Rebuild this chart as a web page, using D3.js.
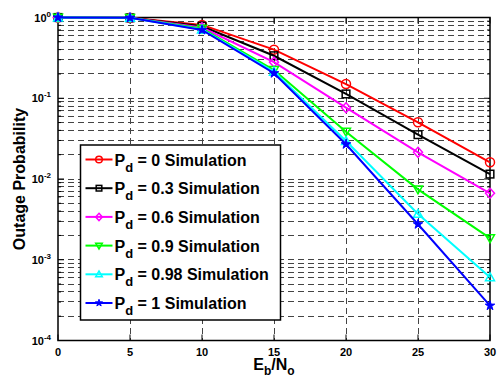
<!DOCTYPE html>
<html>
<head>
<meta charset="utf-8">
<script src="https://cdn.jsdelivr.net/npm/d3@7"></script>
<style>
  body { margin: 0; background: #fff; }
  svg { font-family: "Liberation Sans", Arial, sans-serif; font-weight: bold; }
</style>
</head>
<body>
<div id="chart"></div>
<script>
// data
const ebno = [0, 5, 10, 15, 20, 25, 30];
const pd0 = [1, 0.99, 0.81, 0.40, 0.150, 0.0504, 0.0161];
const pd03 = [1, 0.99, 0.78, 0.336, 0.113, 0.0354, 0.0115];
const pd06 = [1, 0.99, 0.75, 0.28, 0.0764, 0.0214, 0.00665];
const pd09 = [1, 0.99, 0.73, 0.224, 0.0385, 0.00745, 0.00185];
const pd098 = [1, 0.99, 0.71, 0.212, 0.0295, 0.00369, 0.000606];
const pd1 = [1, 0.99, 0.70, 0.204, 0.0269, 0.00275, 0.00027];
const xTicks = [0, 5, 10, 15, 20, 25, 30];
const yTicks = [0, -1, -2, -3, -4];

const series = [
  { pd: '0', values: pd0, color: '#ff0000', marker: 'circle' },
  { pd: '0.3', values: pd03, color: '#000000', marker: 'square' },
  { pd: '0.6', values: pd06, color: '#ff00ff', marker: 'diamond' },
  { pd: '0.9', values: pd09, color: '#00ff00', marker: 'tridown' },
  { pd: '0.98', values: pd098, color: '#00ffff', marker: 'triup' },
  { pd: '1', values: pd1, color: '#0000ff', marker: 'star' }
];

const W = 499, H = 379;
const margin = { top: 17.5, right: 9, bottom: 38.5, left: 58 };
const width = W - margin.left - margin.right;
const height = H - margin.top - margin.bottom;

const svg = d3.select('#chart').append('svg').attr('width', W).attr('height', H);
const g = svg.append('g').attr('transform', `translate(${margin.left},${margin.top})`);

const x = d3.scaleLinear().domain([0, 30]).range([0, width]);
const y = d3.scaleLog().domain([1e-4, 1]).range([height, 0]);

// grid: vertical lines at inner x ticks
g.selectAll('.vgrid')
  .data(xTicks.slice(1, -1))
  .enter().append('line')
  .attr('x1', d => x(d)).attr('x2', d => x(d))
  .attr('y1', 0).attr('y2', height)
  .attr('stroke', '#444').attr('stroke-width', 1)
  .attr('shape-rendering', 'crispEdges')
  .attr('stroke-dasharray', '6,4');

// grid: horizontal lines at every log step
const hvals = [];
for (let e = -4; e < 0; e++) {
  for (let m = 1; m <= 9; m++) {
    if (e === -4 && m === 1) continue;
    hvals.push(m * Math.pow(10, e));
  }
}
g.selectAll('.hgrid')
  .data(hvals)
  .enter().append('line')
  .attr('x1', 0).attr('x2', width)
  .attr('y1', d => y(d)).attr('y2', d => y(d))
  .attr('stroke', '#444').attr('stroke-width', 1)
  .attr('shape-rendering', 'crispEdges')
  .attr('stroke-dasharray', '6,4');

// axes box
g.append('rect')
  .attr('width', width).attr('height', height)
  .attr('fill', 'none').attr('stroke', '#000').attr('stroke-width', 1.5);

// tick marks
const minorVals = hvals.filter(v => Math.abs(Math.log10(v) - Math.round(Math.log10(v))) > 1e-6);
[0, width].forEach(px => {
  const dir = px === 0 ? 1 : -1;
  g.selectAll(null).data(yTicks).enter().append('line')
    .attr('x1', px).attr('x2', px + dir * 6)
    .attr('y1', d => y(Math.pow(10, d))).attr('y2', d => y(Math.pow(10, d)))
    .attr('stroke', '#000').attr('stroke-width', 1);
  g.selectAll(null).data(minorVals).enter().append('line')
    .attr('x1', px).attr('x2', px + dir * 3)
    .attr('y1', d => y(d)).attr('y2', d => y(d))
    .attr('stroke', '#000').attr('stroke-width', 1);
});
[0, height].forEach(py => {
  const dir = py === 0 ? 1 : -1;
  g.selectAll(null).data(xTicks).enter().append('line')
    .attr('x1', d => x(d)).attr('x2', d => x(d))
    .attr('y1', py).attr('y2', py + dir * 6)
    .attr('stroke', '#000').attr('stroke-width', 1);
});

// tick labels
g.selectAll('.xlab').data(xTicks).enter().append('text')
  .attr('x', d => x(d)).attr('y', height + 15)
  .attr('text-anchor', 'middle').attr('font-size', 11)
  .text(d => d);

const ylab = g.selectAll('.ylab').data(yTicks).enter().append('text')
  .attr('x', -7).attr('y', d => y(Math.pow(10, d)) + 4)
  .attr('text-anchor', 'end').attr('font-size', 11);
ylab.append('tspan').text('10');
ylab.append('tspan').attr('dy', -5).attr('font-size', 8).text(d => d);

// axis titles
svg.append('text')
  .attr('transform', `translate(25,${margin.top + height / 2}) rotate(-90)`)
  .attr('text-anchor', 'middle').attr('font-size', 16)
  .text('Outage Probability');

const xt = svg.append('text')
  .attr('x', margin.left + width / 2).attr('y', 370)
  .attr('text-anchor', 'middle').attr('font-size', 16);
xt.append('tspan').text('E');
xt.append('tspan').attr('dy', 5).attr('font-size', 12).text('b');
xt.append('tspan').attr('dy', -5).text('/N');
xt.append('tspan').attr('dy', 5).attr('font-size', 12).text('o');

// markers
function drawMarker(sel, type, color, s) {
  const open = { fill: 'none', stroke: color, 'stroke-width': 1.5 };
  let m;
  if (type === 'circle') {
    m = sel.append('circle').attr('r', s);
  } else if (type === 'square') {
    m = sel.append('rect').attr('x', -s * 0.85).attr('y', -s * 0.85)
      .attr('width', s * 1.7).attr('height', s * 1.7);
  } else if (type === 'diamond') {
    m = sel.append('path').attr('d', `M0,${-s * 1.1}L${s},0L0,${s * 1.1}L${-s},0Z`);
  } else if (type === 'tridown') {
    m = sel.append('path').attr('d', `M${-s},${-s * 0.75}L${s},${-s * 0.75}L0,${s}Z`);
  } else if (type === 'triup') {
    m = sel.append('path').attr('d', `M${-s},${s * 0.75}L${s},${s * 0.75}L0,${-s}Z`);
  } else {
    m = sel.append('path').attr('d', d3.symbol().type(d3.symbolStar).size(s * s * 1.4)());
    open.fill = color;
    open['stroke-width'] = 1;
  }
  Object.entries(open).forEach(([k, v]) => m.attr(k, v));
}

const line = d3.line().x((d, i) => x(ebno[i])).y(d => y(d));

series.forEach(s => {
  g.append('path')
    .datum(s.values)
    .attr('fill', 'none').attr('stroke', s.color).attr('stroke-width', 2)
    .attr('d', line);
  g.selectAll(null).data(s.values).enter().append('g')
    .attr('transform', (d, i) => `translate(${x(ebno[i])},${y(d)})`)
    .each(function () { drawMarker(d3.select(this), s.marker, s.color, 4.5); });
});

// legend
const legend = svg.append('g').attr('transform', 'translate(80.5,145)');
legend.append('rect')
  .attr('width', 200).attr('height', 175)
  .attr('fill', '#fff').attr('stroke', '#000').attr('stroke-width', 1.5);

series.forEach((s, i) => {
  const row = legend.append('g').attr('transform', `translate(0,${14.5 + i * 28.7})`);
  row.append('line').attr('x1', 5).attr('x2', 32).attr('y1', 0).attr('y2', 0)
    .attr('stroke', s.color).attr('stroke-width', 2);
  const mk = row.append('g').attr('transform', 'translate(18.5,0)');
  drawMarker(mk, s.marker, s.color, 3.3);
  const t = row.append('text').attr('x', 34).attr('y', 6).attr('font-size', 16);
  t.append('tspan').text('P');
  t.append('tspan').attr('dy', 6).attr('font-size', 13).text('d');
  t.append('tspan').attr('dy', -6).text(` = ${s.pd} Simulation`);
});
</script>
</body>
</html>
